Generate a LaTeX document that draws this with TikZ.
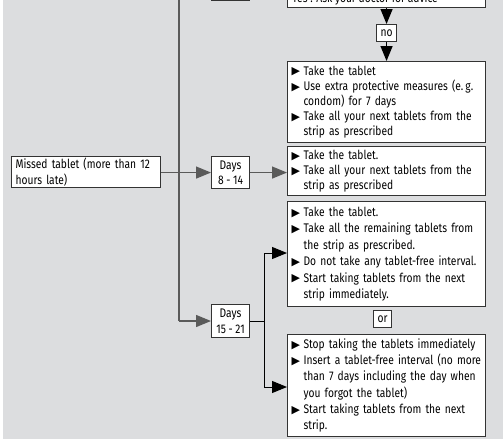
\documentclass[tikz,border=0pt]{standalone}
\usepackage{fontspec}
\setmainfont[FakeStretch=0.82]{Fira Sans}
\newfontfamily\symfont{DejaVu Sans}
\usetikzlibrary{arrows.meta}
\definecolor{bggray}{HTML}{DCDDDF}
\definecolor{edge}{HTML}{333333}
\definecolor{linegray}{HTML}{5A5A5A}
\newcommand\bl[1]{\hangindent=12pt\hangafter=1\noindent\makebox[12pt][l]{\raisebox{0.2pt}{\symfont\fontsize{11}{11}\selectfont ▶}}#1\par}
\tikzset{
  box/.style={draw=edge, line width=1.1pt, fill=white, inner xsep=4pt, inner ysep=1pt},
  listbox/.style={box, anchor=north west, text width=190pt, align=left, minimum width=198pt},
  smallbox/.style={box, anchor=north west, align=center, inner xsep=1pt, minimum width=38pt, font=\fontsize{12.5}{15.5}\selectfont},
  conn/.style={draw=linegray, line width=1.3pt},
  arr/.style={conn, -{Triangle[length=15pt,width=12pt]}},
  tag/.style={box, anchor=north west, inner sep=1pt, font=\fontsize{12.5}{13}\selectfont}
}
\begin{document}
\begin{tikzpicture}[x=1pt,y=-1pt]
\useasboundingbox (0,0) rectangle (503,439);
\fill[white] (0,0) rectangle (503,439);
\fill[bggray] (3,0) rectangle (503,439);

% partially visible boxes at the top
\node[box, anchor=south west, minimum width=38pt, minimum height=30pt] (d17) at (211,0.8) {};
\node[box, anchor=south west, minimum width=198pt, minimum height=30pt] (yes) at (287,8) {};
\node[anchor=base west, inner sep=0pt, font=\fontsize{12.5}{13}\selectfont] (yestext) at (292,2.5) {Yes : Ask your doctor for advice};

\node[tag, minimum width=20pt, minimum height=17pt] (no) at (376,24) {no};

\node[listbox, minimum height=81pt, font=\fontsize{12.5}{15.2}\selectfont] (b1) at (287,61) {%
\bl{Take the tablet}
\bl{Use extra protective measures (e.\,g. condom) for 7 days}
\bl{Take all your next tablets from the strip as prescribed}};

\node[listbox, minimum height=49pt, font=\fontsize{12.5}{14.8}\selectfont] (b2) at (287,146) {%
\bl{Take the tablet.}
\bl{Take all your next tablets from the strip as prescribed}};

\node[listbox, minimum height=105pt, font=\fontsize{12.5}{16.4}\selectfont] (b3) at (287,201) {%
\bl{Take the tablet.}
\bl{Take all the remaining tablets from the strip as prescribed.}
\bl{Do not take any tablet-free interval.}
\bl{Start taking tablets from the next strip immediately.}};

\node[tag, minimum width=18pt, minimum height=17pt] (or) at (373,310) {or};

\node[listbox, minimum height=102pt, font=\fontsize{12.5}{16.2}\selectfont] (b4) at (287,334) {%
\bl{Stop taking the tablets immediately}
\bl{Insert a tablet-free interval (no more than 7 days including the day when you forgot the tablet)}
\bl{Start taking tablets from the next strip.}};

\node[box, anchor=north west, text width=141pt, align=left, minimum width=149pt, minimum height=31pt, font=\fontsize{12.5}{15.5}\selectfont] (missed) at (11,156) {Missed tablet (more than 12 hours late)};

\node[smallbox, minimum height=32pt] (d814) at (211,156) {Days\\8 - 14};
\node[smallbox, minimum height=33pt] (d1521) at (211,304) {Days\\15 - 21};

\coordinate (top) at (179,-2);
\coordinate (bend) at (179,321);
\coordinate (split) at (264,321);
\coordinate (up) at (264,253);
\coordinate (down) at (264,387);

% connectors
\draw[conn] (top) -- (bend);
\draw[arr] (bend) -- (d1521.west |- bend);
\draw[arr] (missed.east |- d814.west) -- (d814.west);
\draw[arr] (d814.east) -- (b2.west |- d814.east);
\draw[conn, line width=1pt, draw=black] (d1521.east |- split) -- (split);
\draw[conn, line width=1pt, draw=black] (up) -- (down);
\draw[arr, line width=1pt, draw=black] (up) -- (b3.west |- up);
\draw[arr, line width=1pt, draw=black] (down) -- (b4.west |- down);
\draw[arr, draw=black] (yes.south -| no) -- (no.north);
\draw[arr, draw=black] (no.south) -- (b1.north -| no);
\end{tikzpicture}
\end{document}
